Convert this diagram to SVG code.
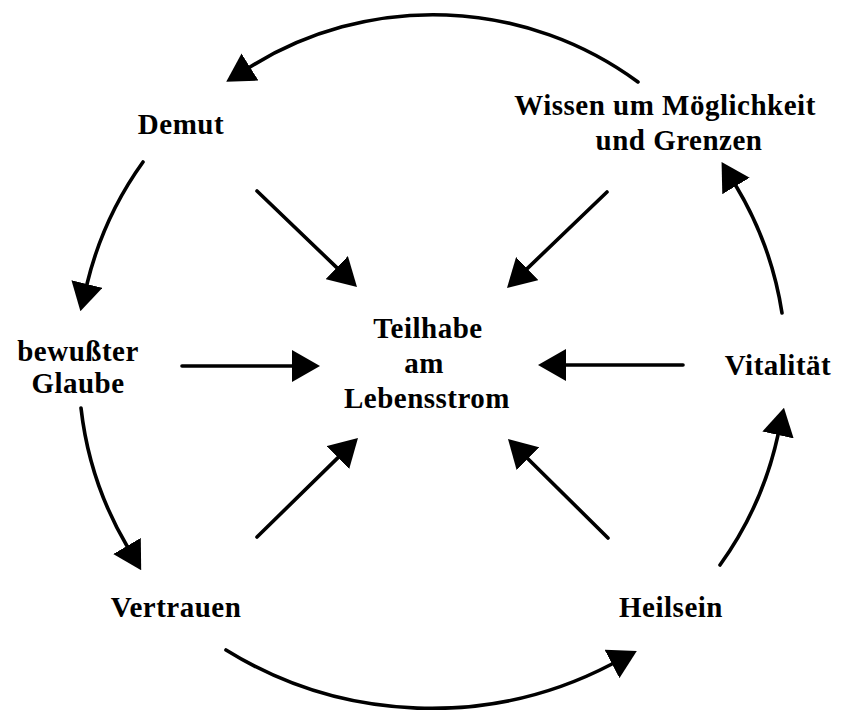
<svg xmlns="http://www.w3.org/2000/svg" width="844" height="710" viewBox="0 0 844 710">
<style>
text{font-family:"Liberation Serif","Times New Roman",serif;font-weight:bold;font-size:29px;fill:#000;text-anchor:middle;letter-spacing:0.5px}
.c{fill:none;stroke:#000;stroke-width:3.6;stroke-linecap:round}
</style>
<defs>
<marker id="ah" viewBox="0 0 28 32" refX="0" refY="16" markerWidth="28" markerHeight="32" markerUnits="userSpaceOnUse" orient="auto">
<path d="M0,0 L28,16 L0,32 z" fill="#000"/>
</marker>
</defs>
<rect width="844" height="710" fill="#fff"/>
<g id="connectors">
<path class="c" d="M638,82 A346,346 0 0 0 250,67" marker-end="url(#ah)"/>
<path class="c" d="M143,162 A350,350 0 0 0 87,284" marker-end="url(#ah)"/>
<path class="c" d="M81,408 A350,350 0 0 0 127,546" marker-end="url(#ah)"/>
<path class="c" d="M226,650 A390,390 0 0 0 612,664" marker-end="url(#ah)"/>
<path class="c" d="M720,565 A350,350 0 0 0 778,435" marker-end="url(#ah)"/>
<path class="c" d="M782,313 A350,350 0 0 0 736,186" marker-end="url(#ah)"/>
<path class="c" d="M257,191 L336.8,267.6" marker-end="url(#ah)"/>
<path class="c" d="M607,192 L527.2,268.6" marker-end="url(#ah)"/>
<path class="c" d="M182,366 L292,366" marker-end="url(#ah)"/>
<path class="c" d="M683,365 L566,365" marker-end="url(#ah)"/>
<path class="c" d="M257,537 L338,457.6" marker-end="url(#ah)"/>
<path class="c" d="M608,538 L527.9,458.7" marker-end="url(#ah)"/>
</g>
<g id="node-center"><text x="428" y="338">Teilhabe</text><text x="424" y="373">am</text><text x="427" y="408">Lebensstrom</text></g>
<g id="node-demut"><text x="181" y="134">Demut</text></g>
<g id="node-wissen"><text x="665" y="115">Wissen um Möglichkeit</text><text x="679" y="150">und Grenzen</text></g>
<g id="node-glaube"><text x="78" y="361">bewußter</text><text x="78" y="393">Glaube</text></g>
<g id="node-vitalitaet"><text x="778" y="375">Vitalität</text></g>
<g id="node-vertrauen"><text x="176" y="617">Vertrauen</text></g>
<g id="node-heilsein"><text x="671" y="617">Heilsein</text></g>
</svg>
